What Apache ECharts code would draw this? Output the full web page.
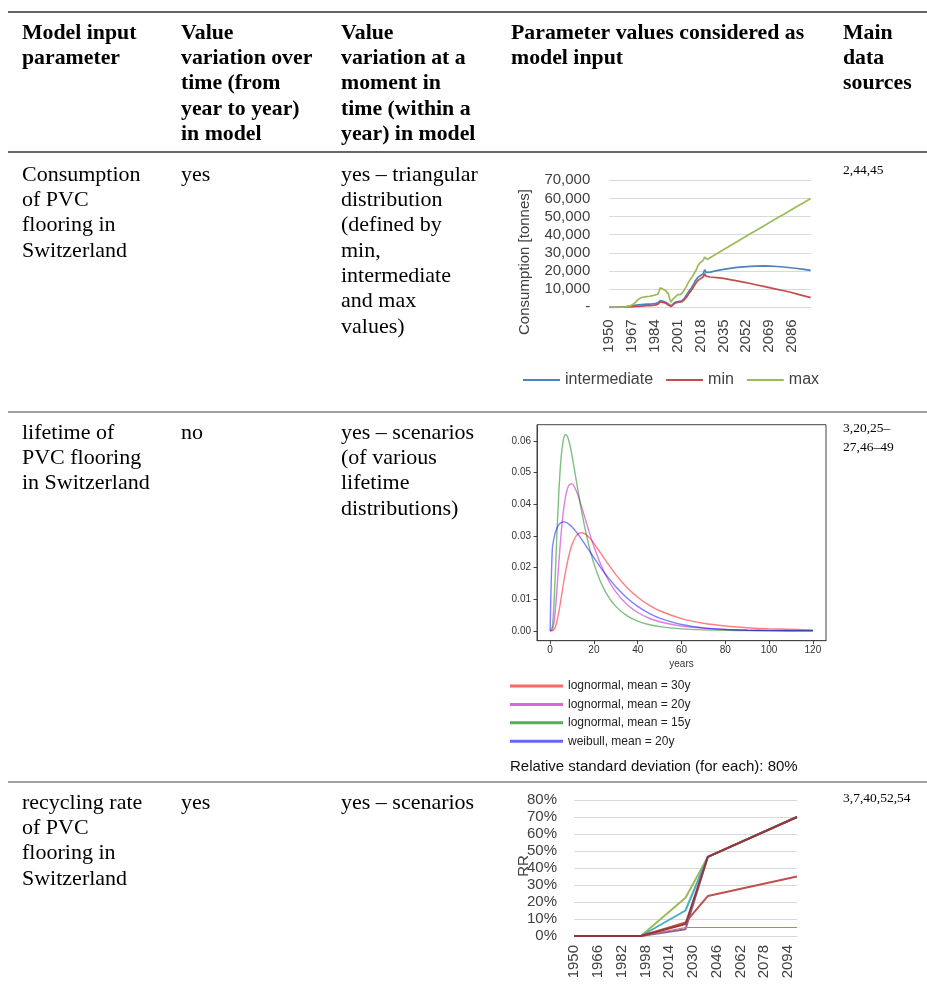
<!DOCTYPE html>
<html>
<head>
<meta charset="utf-8">
<title>Model input parameters – PVC flooring in Switzerland</title>
<script src="https://cdn.jsdelivr.net/npm/echarts@6/dist/echarts.min.js"></script>
<style>
  html, body { margin: 0; padding: 0; background: #ffffff; }
  #page { width: 927px; height: 988px; }
</style>
</head>
<body>
<div id="page"></div>
<script>
// ---------- Table content ----------
const headerCells = [
  ['Model input', 'parameter'],
  ['Value', 'variation over', 'time (from', 'year to year)', 'in model'],
  ['Value', 'variation at a', 'moment in', 'time (within a', 'year) in model'],
  ['Parameter values considered as', 'model input'],
  ['Main', 'data', 'sources']
];
const rowParam = [
  ['Consumption', 'of PVC', 'flooring in', 'Switzerland'],
  ['lifetime of', 'PVC flooring', 'in Switzerland'],
  ['recycling rate', 'of PVC', 'flooring in', 'Switzerland']
];
const rowOverTime = [['yes'], ['no'], ['yes']];
const rowWithinYear = [
  ['yes – triangular', 'distribution', '(defined by', 'min,', 'intermediate', 'and max', 'values)'],
  ['yes – scenarios', '(of various', 'lifetime', 'distributions)'],
  ['yes – scenarios']
];
const rowSources = [['2,44,45'], ['3,20,25–', '27,46–49'], ['3,7,40,52,54']];

// ---------- Consumption of PVC flooring [tonnes] ----------
const consYears = [];
for (let y = 1950; y <= 2100; y++) consYears.push(String(y));

// yearly history 1950–2022
const intermediateHist = [
  0, 0, 0, 0, 20, 50, 80, 120, 160, 200,
  250, 300, 350, 450, 550, 650, 750, 850, 950, 1050,
  1150, 1250, 1350, 1450, 1500, 1550, 1600, 1650, 1700, 1750,
  1800, 1850, 1900, 1950, 2050, 2150, 2400, 3200, 3700, 3500,
  3300, 3100, 2800, 2400, 1800, 1100, 700, 1200, 2200, 2800,
  3000, 3500, 3300, 3600, 3500, 4200, 5000, 6200, 7000, 8500,
  9500, 10500, 11500, 13000, 14500, 15500, 16500, 16000, 17500, 17000,
  18500, 20700, 19200
];
const minHist = [
  0, 0, 0, 0, 0, 0, 0, 20, 40, 60,
  80, 100, 130, 160, 200, 240, 280, 320, 360, 400,
  450, 500, 550, 600, 650, 700, 750, 800, 850, 900,
  950, 1000, 1050, 1100, 1200, 1300, 1600, 2400, 3000, 2900,
  2700, 2500, 2200, 1800, 1300, 700, 400, 900, 1800, 2400,
  2600, 3000, 2800, 3100, 3000, 3600, 4300, 5300, 6000, 7300,
  8200, 9200, 10200, 11500, 12800, 13800, 14800, 14300, 15800, 15300,
  16800, 18600, 17200
];
const maxHist = [
  0, 0, 0, 0, 0, 0, 0, 0, 30, 60,
  100, 150, 200, 300, 450, 650, 900, 1300, 1800, 2400,
  3100, 3900, 4600, 5100, 5400, 5200, 5700, 5500, 5900, 5800,
  6100, 5900, 6400, 6200, 6700, 6500, 7200, 8800, 10800, 10400,
  10000, 9600, 9200, 8600, 7400, 4600, 2800, 4200, 5200, 5600,
  6500, 7000, 7300, 7000, 7800, 8500, 9800, 11000, 12500, 13500,
  15000, 16000, 17000, 18500, 19500, 21000, 23000, 22000, 24800, 24000,
  26000, 27600, 26500
];
// projections [year, tonnes]
const intermediateProj = [
  [2023, 19000], [2025, 19400], [2030, 20200], [2035, 20900], [2040, 21500],
  [2045, 22000], [2050, 22300], [2055, 22600], [2060, 22700], [2065, 22800],
  [2070, 22700], [2075, 22500], [2080, 22200], [2085, 21800], [2090, 21400],
  [2095, 20900], [2100, 20400]
];
const minProj = [
  [2023, 16900], [2025, 16700], [2030, 16400], [2035, 15900], [2040, 15300],
  [2045, 14600], [2050, 13900], [2055, 13100], [2060, 12300], [2065, 11500],
  [2070, 10700], [2075, 9900], [2080, 9100], [2085, 8300], [2090, 7300],
  [2095, 6300], [2100, 5300]
];
const maxProj = [
  [2023, 26400], [2025, 27300], [2030, 29500], [2035, 31700], [2040, 33900],
  [2045, 36100], [2050, 38300], [2055, 40500], [2060, 42600], [2065, 44800],
  [2070, 47000], [2075, 49200], [2080, 51300], [2085, 53500], [2090, 55700],
  [2095, 57800], [2100, 60000]
];

// ---------- Lifetime distributions (probability density) ----------
const lifetimeX = [0, 1, 2, 3, 4, 5, 6, 7, 8, 9, 10, 12, 14, 16, 18, 20, 23, 26, 30, 35, 40, 45, 50, 60, 70, 80, 90, 100, 120];
const lognormal30 = [0, 0.00002, 0.00062, 0.00265, 0.00603, 0.01018, 0.01449, 0.01854, 0.02207, 0.02499, 0.02727, 0.03007, 0.03100, 0.03060, 0.02937, 0.02765, 0.02465, 0.02158, 0.01778, 0.01377, 0.01062, 0.00820, 0.00635, 0.00387, 0.00241, 0.00154, 0.00101, 0.00067, 0.00032];
const lognormal20 = [0, 0.00027, 0.00397, 0.01208, 0.02174, 0.03057, 0.03748, 0.04227, 0.04510, 0.04636, 0.04640, 0.04407, 0.04003, 0.03543, 0.03087, 0.02666, 0.02119, 0.01678, 0.01229, 0.00839, 0.00580, 0.00407, 0.00289, 0.00151, 0.00083, 0.00048, 0.00028, 0.00017, 0.00007];
const lognormal15 = [0, 0.00125, 0.01206, 0.02899, 0.04415, 0.05454, 0.06014, 0.06199, 0.06121, 0.05875, 0.05530, 0.04724, 0.03924, 0.03213, 0.02615, 0.02124, 0.01557, 0.01148, 0.00774, 0.00483, 0.00309, 0.00202, 0.00135, 0.00064, 0.00032, 0.00017, 0.00009, 0.00005, 0.00002];
const weibull20 = [0, 0.02585, 0.03006, 0.03230, 0.03356, 0.03421, 0.03442, 0.03432, 0.03399, 0.03347, 0.03280, 0.03117, 0.02928, 0.02724, 0.02516, 0.02309, 0.02008, 0.01728, 0.01396, 0.01048, 0.00773, 0.00562, 0.00404, 0.00200, 0.00095, 0.00044, 0.00020, 0.00008, 0.00001];
const lifetimeNames = ['lognormal, mean = 30y', 'lognormal, mean = 20y', 'lognormal, mean = 15y', 'weibull, mean = 20y'];
const yTicksLifetime = [0, 0.01, 0.02, 0.03, 0.04, 0.05, 0.06];
const xTicksLifetime = [0, 20, 40, 60, 80, 100, 120];

// ---------- Recycling rate scenarios [%] ----------
const rrYears = consYears;
const rrBreakYears = [1950, 1995, 2025, 2040, 2100];
const rrScenarioA = [0, 0, 22.5, 46.5, 70];
const rrScenarioB = [0, 0, 15, 46.5, 70];
const rrScenarioC = [0, 0, 4, 46.5, 70];
const rrScenarioD = [0, 0, 8, 23.5, 35];
const rrScenarioE = [0, 0, 5, 5, 5];
const rrScenarioF = [0, 0, 7, 46.5, 70];

// ---------- helpers ----------
function yearSeries(years, hist, proj) {
  const out = years.map(() => null);
  hist.forEach((v, i) => { out[i] = v; });
  proj.forEach(([yr, v]) => { out[yr - 1950] = v; });
  return out;
}
function breakSeries(years, breaks, vals) {
  const out = years.map(() => null);
  breaks.forEach((yr, i) => { out[yr - 1950] = vals[i]; });
  return out;
}
const pairs = (xs, ys) => xs.map((x, i) => [x, ys[i]]);

const SERIF = '"Liberation Serif", "Times New Roman", serif';
const SANS = '"Liberation Sans", Arial, sans-serif';

// ---------- table graphics ----------
const colX = [22, 181, 341, 511, 843];
const LH = 25.3;
const graphic = [];
function textBlock(lines, x, firstCenter, opts) {
  graphic.push({
    type: 'text', x: x, y: firstCenter - (opts.lh || LH) / 2, silent: true,
    style: {
      text: lines.join('\n'),
      fontFamily: opts.family || SERIF,
      fontSize: opts.size || 22,
      fontWeight: opts.weight || 'normal',
      lineHeight: opts.lh || LH,
      fill: '#000',
      verticalAlign: 'top', align: 'left'
    }
  });
}
function hline(y, w, color) {
  graphic.push({ type: 'line', silent: true, shape: { x1: 8, y1: y, x2: 927, y2: y }, style: { stroke: color, lineWidth: w } });
}
hline(12, 1.3, '#333');
hline(152, 2, '#666');
hline(412, 1.2, '#444');
hline(782, 1.2, '#444');

headerCells.forEach((lines, i) => textBlock(lines, colX[i], 33, { weight: 'bold', size: 21.8 }));
const rowFirst = [175, 433, 803];
const srcFirst = [170, 428, 798];
for (let r = 0; r < 3; r++) {
  textBlock(rowParam[r], colX[0], rowFirst[r], {});
  textBlock(rowOverTime[r], colX[1], rowFirst[r], {});
  textBlock(rowWithinYear[r], colX[2], rowFirst[r], {});
  textBlock(rowSources[r], colX[4], srcFirst[r], { size: 13.5, lh: 19 });
}
// axis titles and notes drawn inside the charts column
graphic.push({
  type: 'text', x: 525, y: 262, rotation: Math.PI / 2, silent: true,
  style: { text: 'Consumption [tonnes]', fontFamily: SANS, fontSize: 15, fill: '#404040', align: 'center', verticalAlign: 'middle' }
});
graphic.push({
  type: 'text', x: 524, y: 866, rotation: Math.PI / 2, silent: true,
  style: { text: 'RR', fontFamily: SANS, fontSize: 15, fill: '#404040', align: 'center', verticalAlign: 'middle' }
});
graphic.push({
  type: 'text', x: 510, y: 767, silent: true,
  style: { text: 'Relative standard deviation (for each): 80%', fontFamily: SANS, fontSize: 15, fill: '#111', align: 'left', verticalAlign: 'middle' }
});

// ---------- chart options ----------
const excelLabel = { fontFamily: SANS, fontSize: 15, color: '#404040' };
const mplLabel = { fontFamily: SANS, fontSize: 10, color: '#333' };
const lineBase = { type: 'line', symbol: 'none', showSymbol: false, silent: true, animation: false };

const option = {
  animation: false,
  backgroundColor: '#ffffff',
  graphic: graphic,
  grid: [
    { left: 609.3, top: 180.3, width: 201.4, height: 127, containLabel: false, outerBoundsMode: 'none' },
    { left: 537, top: 424.7, width: 289, height: 216, containLabel: false, outerBoundsMode: 'none',
      show: true, borderColor: '#444', borderWidth: 1, backgroundColor: 'transparent' },
    { left: 574, top: 800, width: 223, height: 136, containLabel: false, outerBoundsMode: 'none' }
  ],
  legend: [
    {
      data: ['intermediate', 'min', 'max'], left: 523, top: 372, padding: 0, icon: 'rect',
      itemWidth: 37, itemHeight: 2, itemGap: 13, selectedMode: false,
      textStyle: { fontFamily: SANS, fontSize: 16, color: '#404040' }
    },
    {
      data: lifetimeNames, orient: 'vertical', left: 510, top: 679, padding: 0, icon: 'rect',
      itemWidth: 53, itemHeight: 3, itemGap: 4.4, selectedMode: false,
      textStyle: { fontFamily: SANS, fontSize: 12, color: '#222', lineHeight: 14 }
    }
  ],
  xAxis: [
    {
      gridIndex: 0, type: 'category', data: consYears, boundaryGap: false,
      axisLine: { lineStyle: { color: '#d9d9d9', width: 1 } }, axisTick: { show: false },
      axisLabel: Object.assign({ interval: 16, rotate: 90, margin: 12 }, excelLabel),
      splitLine: { show: false }
    },
    {
      gridIndex: 1, type: 'value', min: -6, max: 126,
      axisLine: { show: true, onZero: false, lineStyle: { color: '#444' } },
      axisTick: { show: true, length: 3.5, customValues: xTicksLifetime, lineStyle: { color: '#444' } },
      axisLabel: Object.assign({ customValues: xTicksLifetime, margin: 5 }, mplLabel),
      splitLine: { show: false },
      name: 'years', nameLocation: 'middle', nameGap: 19, nameTextStyle: mplLabel
    },
    {
      gridIndex: 2, type: 'category', data: rrYears, boundaryGap: false,
      axisLine: { lineStyle: { color: '#d9d9d9', width: 1 } }, axisTick: { show: false },
      axisLabel: Object.assign({ interval: 15, rotate: 90, margin: 9 }, excelLabel),
      splitLine: { show: false }
    }
  ],
  yAxis: [
    {
      gridIndex: 0, type: 'value', min: 0, max: 70000, interval: 10000,
      axisLine: { show: false }, axisTick: { show: false },
      splitLine: { lineStyle: { color: '#d9d9d9', width: 1 } },
      axisLabel: Object.assign({
        margin: 19,
        formatter: v => v === 0 ? '-' : v.toLocaleString('en-US')
      }, excelLabel)
    },
    {
      gridIndex: 1, type: 'value', min: -0.0031, max: 0.0651,
      axisLine: { show: true, onZero: false, lineStyle: { color: '#444' } },
      axisTick: { show: true, length: 3.5, customValues: yTicksLifetime, lineStyle: { color: '#444' } },
      axisLabel: Object.assign({ customValues: yTicksLifetime, margin: 6, formatter: v => v.toFixed(2) }, mplLabel),
      splitLine: { show: false }
    },
    {
      gridIndex: 2, type: 'value', min: 0, max: 80, interval: 10,
      axisLine: { show: false }, axisTick: { show: false },
      splitLine: { lineStyle: { color: '#d9d9d9', width: 1 } },
      axisLabel: Object.assign({ margin: 17, formatter: v => v + '%' }, excelLabel)
    }
  ],
  series: [
    // consumption
    Object.assign({}, lineBase, { name: 'intermediate', xAxisIndex: 0, yAxisIndex: 0, color: '#4f81bd', connectNulls: true,
      lineStyle: { width: 1.7, color: '#4f81bd' }, data: yearSeries(consYears, intermediateHist, intermediateProj) }),
    Object.assign({}, lineBase, { name: 'min', xAxisIndex: 0, yAxisIndex: 0, color: '#c0504d', connectNulls: true,
      lineStyle: { width: 1.7, color: '#c0504d' }, data: yearSeries(consYears, minHist, minProj) }),
    Object.assign({}, lineBase, { name: 'max', xAxisIndex: 0, yAxisIndex: 0, color: '#9bbb59', connectNulls: true,
      lineStyle: { width: 1.7, color: '#9bbb59' }, data: yearSeries(consYears, maxHist, maxProj) }),
    // lifetime distributions
    Object.assign({}, lineBase, { name: lifetimeNames[0], xAxisIndex: 1, yAxisIndex: 1, color: 'rgba(255,0,0,0.6)', smooth: 0.3,
      lineStyle: { width: 1.4, color: 'rgba(255,0,0,0.5)' }, data: pairs(lifetimeX, lognormal30) }),
    Object.assign({}, lineBase, { name: lifetimeNames[1], xAxisIndex: 1, yAxisIndex: 1, color: 'rgba(191,0,191,0.6)', smooth: 0.3,
      lineStyle: { width: 1.4, color: 'rgba(191,0,191,0.5)' }, data: pairs(lifetimeX, lognormal20) }),
    Object.assign({}, lineBase, { name: lifetimeNames[2], xAxisIndex: 1, yAxisIndex: 1, color: 'rgba(0,128,0,0.65)', smooth: 0.3,
      lineStyle: { width: 1.4, color: 'rgba(0,128,0,0.5)' }, data: pairs(lifetimeX, lognormal15) }),
    Object.assign({}, lineBase, { name: lifetimeNames[3], xAxisIndex: 1, yAxisIndex: 1, color: 'rgba(0,0,255,0.6)', smooth: 0.3,
      lineStyle: { width: 1.4, color: 'rgba(0,0,255,0.5)' }, data: pairs(lifetimeX, weibull20) }),
    // recycling rate scenarios
    Object.assign({}, lineBase, { name: 'RR A', xAxisIndex: 2, yAxisIndex: 2, connectNulls: true,
      lineStyle: { width: 2, color: '#9bbb59' }, data: breakSeries(rrYears, rrBreakYears, rrScenarioA) }),
    Object.assign({}, lineBase, { name: 'RR B', xAxisIndex: 2, yAxisIndex: 2, connectNulls: true,
      lineStyle: { width: 2, color: '#4bacc6' }, data: breakSeries(rrYears, rrBreakYears, rrScenarioB) }),
    Object.assign({}, lineBase, { name: 'RR C', xAxisIndex: 2, yAxisIndex: 2, connectNulls: true,
      lineStyle: { width: 2, color: '#8064a2' }, data: breakSeries(rrYears, rrBreakYears, rrScenarioC) }),
    Object.assign({}, lineBase, { name: 'RR E', xAxisIndex: 2, yAxisIndex: 2, connectNulls: true,
      lineStyle: { width: 1.2, color: '#e0706d' }, data: breakSeries(rrYears, rrBreakYears, rrScenarioE) }),
    Object.assign({}, lineBase, { name: 'RR D', xAxisIndex: 2, yAxisIndex: 2, connectNulls: true,
      lineStyle: { width: 2, color: '#c0504d' }, data: breakSeries(rrYears, rrBreakYears, rrScenarioD) }),
    Object.assign({}, lineBase, { name: 'RR F', xAxisIndex: 2, yAxisIndex: 2, connectNulls: true,
      lineStyle: { width: 2, color: '#953735' }, data: breakSeries(rrYears, rrBreakYears, rrScenarioF) })
  ]
};

const chart = echarts.init(document.getElementById('page'), null, { renderer: 'canvas' });
chart.setOption(option);
</script>
</body>
</html>
